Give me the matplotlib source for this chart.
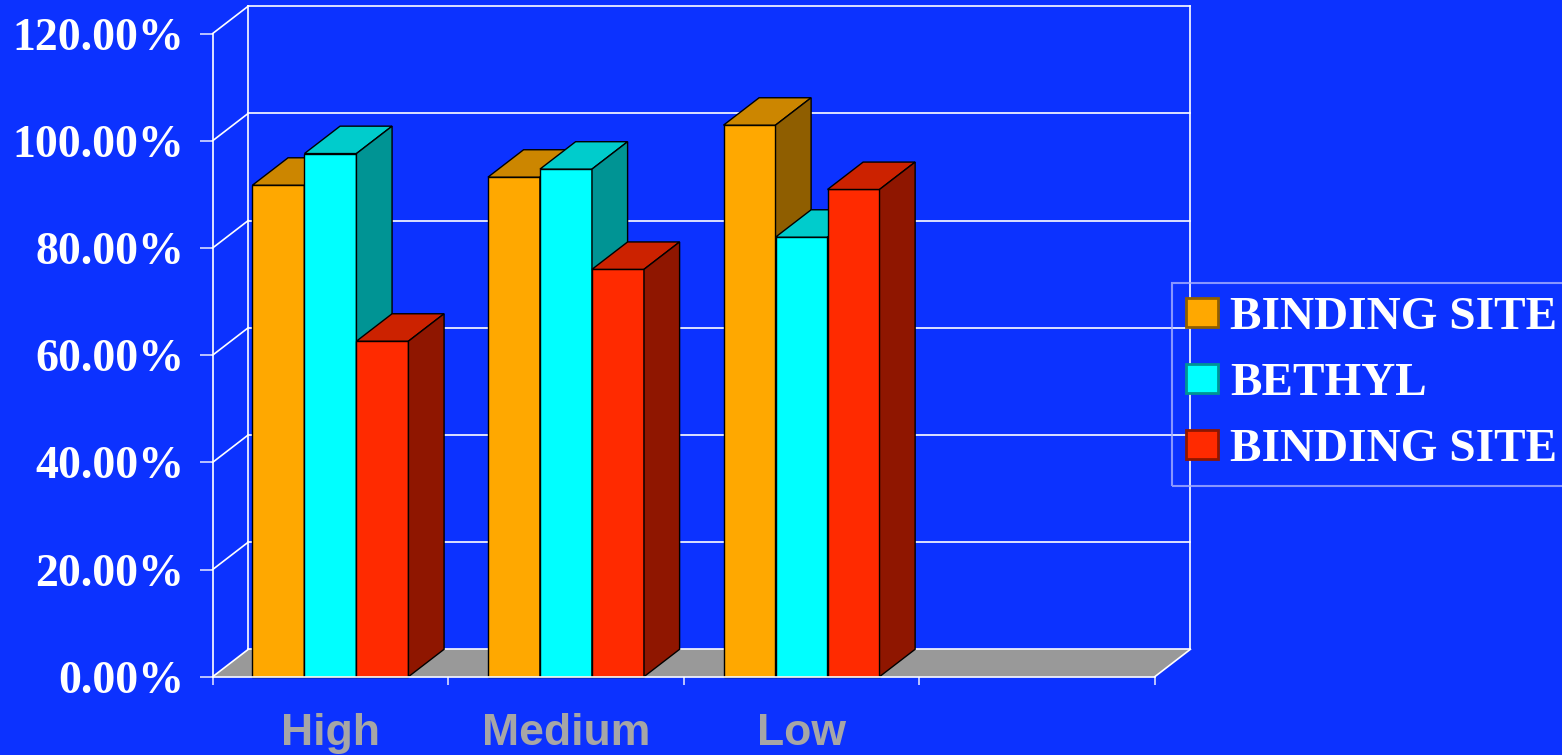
import matplotlib
matplotlib.use("Agg")
import matplotlib.pyplot as plt
from matplotlib.patches import Polygon, Patch
import numpy as np

# data
categories = ["High", "Medium", "Low"]
n_slots = 4  # the category axis keeps one empty slot on the right
series_names = ["BINDING SITE", "BETHYL", "BINDING SITE"]
binding_site_a = [91.7, 93.2, 102.9]
bethyl = [97.6, 94.7, 82.0]
binding_site_b = [62.6, 76.0, 90.9]
y_ticks = [0, 20, 40, 60, 80, 100, 120]

BG = "#0C32FF"
LINE = "#FFFFFF"
FLOOR = "#999999"
# (front, top, side) shades for each series
SHADES = [("#FFA800", "#CC8600", "#8F5E00"),
          ("#00FFFF", "#00CCCC", "#009494"),
          ("#FF2A00", "#CC2200", "#8F1600")]

W = 52 / 235.5      # bar width in category units
DX = 35.6 / 235.5   # depth offset, x
DY = 27.4 / 5.36    # depth offset, y (percent)

fig = plt.figure(figsize=(15.62, 7.55), dpi=100, facecolor=BG)
ax = fig.add_axes([212.7 / 1562, (755 - 676.7) / 755, 942.1 / 1562, 643.2 / 755])
ax.set_facecolor("none")
ax.set_xlim(0, n_slots)
ax.set_ylim(0, 120)

# floor
ax.add_patch(Polygon([(0, 0), (n_slots, 0), (n_slots + DX, DY), (DX, DY)],
                     closed=True, facecolor=FLOOR, edgecolor="none", zorder=1, clip_on=False))

# back wall, gridlines and the diagonals joining them to the front axis
for v in y_ticks:
    ax.plot([DX, n_slots + DX], [v + DY, v + DY], color=LINE, lw=1.2, clip_on=False, zorder=2)
    ax.plot([0, DX], [v, v + DY], color=LINE, lw=1.2, clip_on=False, zorder=2)
ax.plot([DX, DX], [DY, 120 + DY], color=LINE, lw=1.2, clip_on=False, zorder=2)
ax.plot([n_slots + DX, n_slots + DX], [DY, 120 + DY], color=LINE, lw=1.2, clip_on=False, zorder=2)
ax.plot([n_slots, n_slots + DX], [0, DY], color=LINE, lw=1.2, clip_on=False, zorder=2)


def draw_box(x0, h, front, top, side, z):
    kw = dict(closed=True, edgecolor="black", lw=1.0, zorder=z, clip_on=False)
    ax.add_patch(Polygon([(x0, 0), (x0 + W, 0), (x0 + W, h), (x0, h)], facecolor=front, **kw))
    ax.add_patch(Polygon([(x0, h), (x0 + W, h), (x0 + W + DX, h + DY), (x0 + DX, h + DY)],
                         facecolor=top, **kw))
    ax.add_patch(Polygon([(x0 + W, 0), (x0 + W + DX, DY), (x0 + W + DX, h + DY), (x0 + W, h)],
                         facecolor=side, **kw))


series = [binding_site_a, bethyl, binding_site_b]
z = 3
for c in range(len(categories)):
    for i, vals in enumerate(series):
        x0 = c + 0.5 - 1.5 * W + i * W
        draw_box(x0, vals[c], *SHADES[i], z)
        z += 1

# axes
for s in ["top", "right"]:
    ax.spines[s].set_visible(False)
for s in ["left", "bottom"]:
    ax.spines[s].set_color(LINE)
    ax.spines[s].set_linewidth(1.2)
    ax.spines[s].set_zorder(50)

ax.set_yticks(y_ticks, labels=[f"{v:.2f}%" for v in y_ticks])
ax.tick_params(axis="y", direction="out", length=9.4, width=1.2, color="#D8DCFF",
               pad=11, labelsize=33, labelcolor="white")
for lab in ax.get_yticklabels():
    lab.set_family("Liberation Serif")
    lab.set_weight("bold")

ax.set_xticks(np.arange(n_slots + 1))
ax.set_xticklabels([])
ax.set_xticks(np.arange(len(categories)) + 0.5, labels=categories, minor=True)
ax.tick_params(axis="x", which="major", direction="out", length=6, width=1.2, color="#D8DCFF")
ax.tick_params(axis="x", which="minor", length=0, pad=26, labelsize=32, labelcolor="#A6A6A6")
for lab in ax.get_xticklabels(minor=True):
    lab.set_family("Liberation Sans")
    lab.set_weight("bold")

handles = [Patch(facecolor=f, edgecolor=s, lw=2) for f, _, s in SHADES]
leg = ax.legend(handles, series_names, loc="upper left",
                bbox_to_anchor=(1171.7 / 1562, 1 - 283 / 755), bbox_transform=fig.transFigure,
                borderaxespad=0, frameon=True, fancybox=False, facecolor="none",
                edgecolor="#A8B0FF", handlelength=0.67, handleheight=0.57,
                handletextpad=0.27, borderpad=0.3, labelspacing=0.51,
                prop={"family": "Liberation Serif", "weight": "bold", "size": 34})
leg.get_frame().set_linewidth(1.5)
leg.set_zorder(60)
for t in leg.get_texts():
    t.set_color("white")

fig.savefig("out.png", dpi=100, facecolor=BG)
